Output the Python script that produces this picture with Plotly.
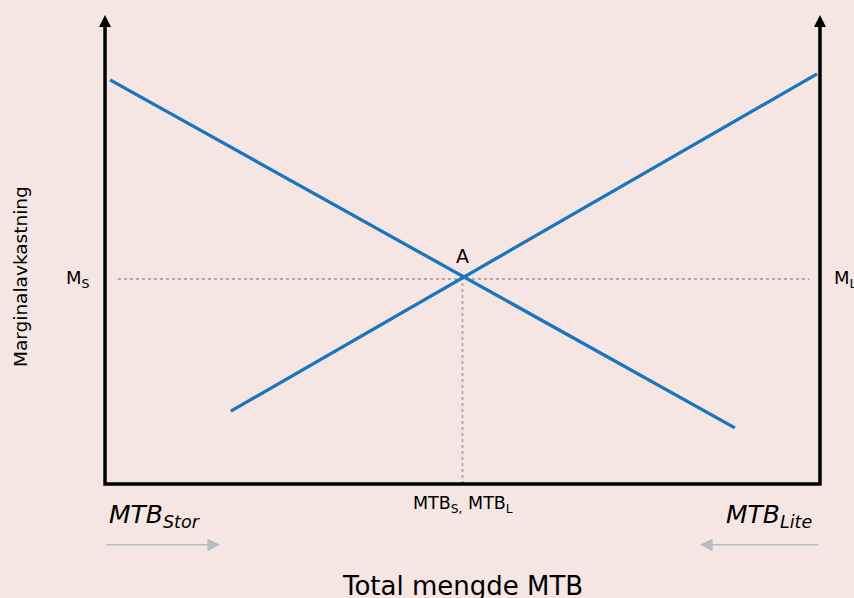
import plotly.graph_objects as go

# ---- data (conceptual units: x 0..100 quantity, y 0..100 marginal return) ----
stor_x = [0.7, 88.1]          # MTB Stor marginal return curve (downward)
stor_y = [87.1, 12.1]
lite_x = [17.6, 99.6]         # MTB Lite marginal return curve (upward)
lite_y = [15.7, 88.4]
eq_x = 50.0                   # equilibrium A
eq_y = 44.2
axis_top = 98.9
arrow_tip = 101.1

BG = "#f5e6e3"
BLUE = "#1b75bc"
GREY_DOT = "#ababab"
GREY_ARR = "#b8bcc0"
FONT = "DejaVu Sans"

fig = go.Figure()

# dotted guide lines
fig.add_trace(go.Scatter(x=[1.8, 98.5], y=[eq_y, eq_y], mode="lines",
                         line=dict(color=GREY_DOT, width=2, dash="dot"), hoverinfo="skip"))
fig.add_trace(go.Scatter(x=[eq_x, eq_x], y=[0, eq_y], mode="lines",
                         line=dict(color=GREY_DOT, width=2, dash="dot"), hoverinfo="skip"))

# curves
fig.add_trace(go.Scatter(x=stor_x, y=stor_y, mode="lines",
                         line=dict(color=BLUE, width=3.3), hoverinfo="skip"))
fig.add_trace(go.Scatter(x=lite_x, y=lite_y, mode="lines",
                         line=dict(color=BLUE, width=3.3), hoverinfo="skip"))

# axes (thick black)
fig.add_trace(go.Scatter(x=[0, 0, 100, 100], y=[axis_top, 0, 0, axis_top], mode="lines",
                         line=dict(color="black", width=3.5), hoverinfo="skip"))
fig.add_trace(go.Scatter(x=[0, 100], y=[arrow_tip, arrow_tip], mode="markers",
                         marker=dict(symbol="arrow-up", size=12, color="black",
                                     line=dict(width=0)), hoverinfo="skip"))

annos = []
annos.append(dict(x=-1.8, y=eq_y, text="M<sub>S</sub>", showarrow=False, xanchor="right",
                  yanchor="middle", font=dict(size=18, color="black", family=FONT)))
annos.append(dict(x=101.7, y=eq_y, text="M<sub>L</sub>", showarrow=False, xanchor="left",
                  yanchor="middle", font=dict(size=18, color="black", family=FONT)))
annos.append(dict(x=eq_x, y=eq_y + 2.2, text="A", showarrow=False, xanchor="center",
                  yanchor="bottom", font=dict(size=19, color="black", family=FONT)))
annos.append(dict(x=eq_x, y=-1.5, text="MTB<sub>S,</sub> MTB<sub>L</sub>", showarrow=False,
                  xanchor="center", yanchor="top", font=dict(size=17.5, color="black", family=FONT)))
annos.append(dict(x=0.3, y=-3.0, text="<i>MTB<sub>Stor</sub></i>", showarrow=False,
                  xanchor="left", yanchor="top", font=dict(size=25, color="black", family=FONT)))
annos.append(dict(x=99.2, y=-3.0, text="<i>MTB<sub>Lite</sub></i>", showarrow=False,
                  xanchor="right", yanchor="top", font=dict(size=25, color="black", family=FONT)))
annos.append(dict(x=eq_x, y=-18.4, text="Total mengde MTB", showarrow=False,
                  xanchor="center", yanchor="top", font=dict(size=26, color="black", family=FONT)))
annos.append(dict(x=-11.9, y=44.8, text="Marginalavkastning", showarrow=False, textangle=-90,
                  xanchor="center", yanchor="middle", font=dict(size=18.5, color="black", family=FONT)))
# grey direction arrows
annos.append(dict(x=16.1, y=-13.1, ax=0, ay=-13.1, axref="x", ayref="y", text="",
                  showarrow=True, arrowhead=2, arrowsize=1.6, arrowwidth=1.6, arrowcolor=GREY_ARR))
annos.append(dict(x=83.2, y=-13.1, ax=100, ay=-13.1, axref="x", ayref="y", text="",
                  showarrow=True, arrowhead=2, arrowsize=1.6, arrowwidth=1.6, arrowcolor=GREY_ARR))

fig.update_layout(
    width=854, height=598,
    margin=dict(l=0, r=0, t=0, b=0),
    paper_bgcolor=BG, plot_bgcolor=BG,
    showlegend=False,
    annotations=annos,
    xaxis=dict(range=[-14.69, 104.76], visible=False, fixedrange=True),
    yaxis=dict(range=[-24.57, 104.31], visible=False, fixedrange=True),
)

fig.write_html("out.html", config={"displayModeBar": False},
               post_script="document.body.style.margin='0';document.body.style.background='" + BG + "';")
